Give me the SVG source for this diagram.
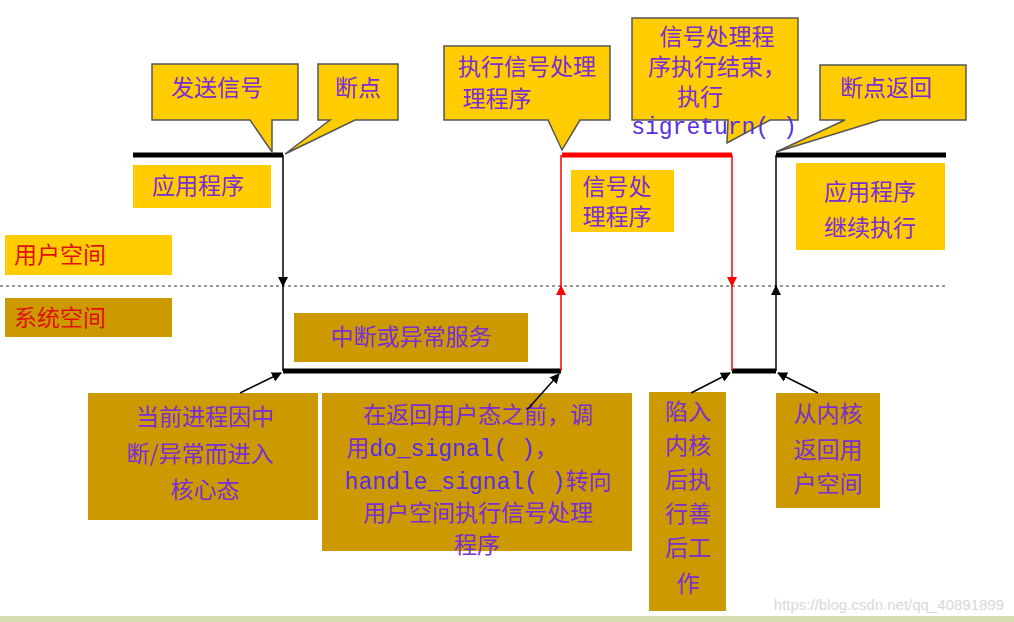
<svg xmlns="http://www.w3.org/2000/svg" width="1014" height="622" viewBox="0 0 1014 622">
<style>
text{font-family:"Noto Sans CJK SC","Liberation Sans",sans-serif;fill:#7a2fd0;font-size:23px;text-anchor:middle}
.m{font-family:"Liberation Mono","Noto Sans CJK SC",monospace;fill:#5a2ee0}
.r{fill:#e01010;text-anchor:start}
.co{fill:#ffcc00;stroke:#555;stroke-width:1.5}
.y{fill:#ffcc00}
.b{fill:#cc9900}
.thk{stroke-width:5;fill:none}
.thn{stroke-width:1.5;fill:none}
</style>
<defs>
<marker id="ak" markerWidth="10" markerHeight="10" refX="9" refY="5" orient="auto" markerUnits="userSpaceOnUse"><path d="M0,0L10,5L0,10z" fill="#000"/></marker>
<marker id="ar" markerWidth="10" markerHeight="10" refX="9" refY="5" orient="auto" markerUnits="userSpaceOnUse"><path d="M0,0L10,5L0,10z" fill="#f00"/></marker>
</defs>
<rect width="1014" height="622" fill="#fff"/>
<rect x="0" y="616" width="1014" height="6" fill="#d8ddb0"/>
<g id="connectors">
<line x1="0" y1="286" x2="946" y2="286" stroke="#333" stroke-width="1" stroke-dasharray="3,3"/>
<line class="thk" x1="133" y1="155" x2="283" y2="155" stroke="#000"/>
<line class="thk" x1="562" y1="155" x2="732" y2="155" stroke="#f00"/>
<line class="thk" x1="776" y1="155" x2="946" y2="155" stroke="#000"/>
<line class="thk" x1="283" y1="371" x2="561" y2="371" stroke="#000"/>
<line class="thk" x1="732" y1="371" x2="776" y2="371" stroke="#000"/>
<line class="thn" x1="283" y1="155" x2="283" y2="286" stroke="#000" marker-end="url(#ak)"/>
<line class="thn" x1="283" y1="286" x2="283" y2="371" stroke="#000"/>
<line class="thn" x1="561" y1="371" x2="561" y2="286" stroke="#f00" marker-end="url(#ar)"/>
<line class="thn" x1="561" y1="286" x2="561" y2="155" stroke="#f00"/>
<line class="thn" x1="732" y1="155" x2="732" y2="286" stroke="#f00" marker-end="url(#ar)"/>
<line class="thn" x1="732" y1="286" x2="732" y2="371" stroke="#f00"/>
<line class="thn" x1="776" y1="371" x2="776" y2="286" stroke="#000" marker-end="url(#ak)"/>
<line class="thn" x1="776" y1="286" x2="776" y2="155" stroke="#000"/>
</g>
<g id="callout-send"><path class="co" d="M152,64H298V120H272L272,152L250,120H152Z"/><text x="217" y="96" font-size="24">发送信号</text></g>
<g id="callout-break"><path class="co" d="M318,64H398V120H355L285,154L330,120H318Z"/><text x="358" y="96" font-size="24">断点</text></g>
<g id="callout-exec"><path class="co" d="M444,46H610V120H580L562,150L548,120H444Z"/><text x="527" y="75" font-size="23">执行信号处理</text><text x="497" y="107" font-size="23">理程序</text></g>
<g id="callout-end"><path class="co" d="M632,18H798V120H770L727,143L728,120H632Z"/><text x="717" y="45" font-size="22">信号处理程</text><text x="717" y="75" font-size="22">序执行结束，</text><text x="700" y="105" font-size="22">执行</text><text class="m" x="714" y="134" font-size="19">sigreturn( )</text></g>
<g id="callout-ret"><path class="co" d="M820,65H966V120H880L776,152L845,120H820Z"/><text x="886" y="96" font-size="24">断点返回</text></g>
<g id="app"><rect class="y" x="133" y="165" width="138" height="43"/><text x="198" y="194">应用程序</text></g>
<g id="user"><rect class="y" x="5" y="235" width="167" height="40"/><text class="r" x="14" y="263">用户空间</text></g>
<g id="sys"><rect class="b" x="5" y="298" width="167" height="39"/><text class="r" x="14" y="326">系统空间</text></g>
<g id="isr"><rect class="b" x="294" y="313" width="234" height="49"/><text x="411" y="345">中断或异常服务</text></g>
<g id="handler"><rect class="y" x="571" y="170" width="103" height="62"/><text x="617" y="195" font-size="21">信号处</text><text x="617" y="225" font-size="21">理程序</text></g>
<g id="cont"><rect class="y" x="796" y="163" width="149" height="87"/><text x="870" y="200">应用程序</text><text x="870" y="236">继续执行</text></g>
<g id="b1"><rect class="b" x="88" y="393" width="230" height="127"/><text x="205" y="425" font-size="25">当前进程因中</text><text x="200" y="462" font-size="25">断/异常而进入</text><text x="205" y="498" font-size="25">核心态</text></g>
<g id="b2"><rect class="b" x="322" y="393" width="310" height="158"/>
<text x="478" y="423" font-size="22">在返回用户态之前，调</text>
<text x="452" y="456" font-size="22"><tspan>用</tspan><tspan class="m">do_signal( )</tspan><tspan>，</tspan></text>
<text x="478" y="489" font-size="22"><tspan class="m">handle_signal( )</tspan><tspan>转向</tspan></text>
<text x="478" y="521" font-size="22">用户空间执行信号处理</text>
<text x="477" y="553" font-size="22">程序</text></g>
<g id="b3"><rect class="b" x="649" y="392" width="77" height="219"/><text x="688" y="420">陷入</text><text x="688" y="454">内核</text><text x="688" y="488">后执</text><text x="688" y="522">行善</text><text x="688" y="556">后工</text><text x="688" y="592">作</text></g>
<g id="b4"><rect class="b" x="776" y="393" width="104" height="115"/><text x="828" y="422">从内核</text><text x="828" y="458">返回用</text><text x="828" y="492">户空间</text></g>
<g id="pointers">
<line class="thn" x1="240" y1="393" x2="281" y2="373" stroke="#000" marker-end="url(#ak)"/>
<line class="thn" x1="527" y1="410" x2="559" y2="374" stroke="#000" marker-end="url(#ak)"/>
<line class="thn" x1="691" y1="393" x2="730" y2="373" stroke="#000" marker-end="url(#ak)"/>
<line class="thn" x1="818" y1="393" x2="778" y2="373" stroke="#000" marker-end="url(#ak)"/>
</g>
<text x="1004" y="610" style="fill:#d8d8d8;text-anchor:end;font-family:'Liberation Sans',sans-serif;font-size:15px">https://blog.csdn.net/qq_40891899</text>
</svg>
